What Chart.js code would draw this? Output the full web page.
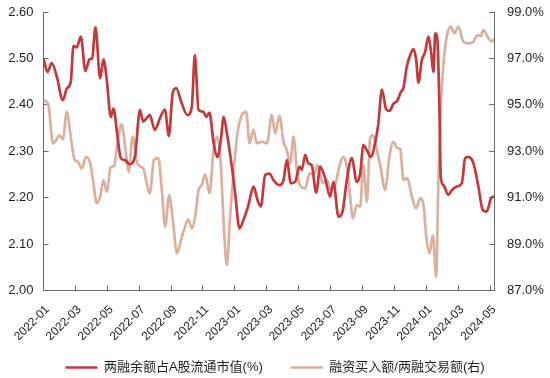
<!DOCTYPE html>
<html>
<head>
<meta charset="utf-8">
<script src="https://cdn.jsdelivr.net/npm/chart.js@4/dist/chart.umd.min.js"></script>
<style>
  body { margin: 0; background: #fff; }
</style>
</head>
<body>
<canvas id="grafico" width="550" height="378"></canvas>
<script>
// x = months since 2022-01 (0 = 2022-01-01)
const seriesNames = ['两融余额占A股流通市值(%)', '融资买入额/两融交易额(右)'];
const tickLabels = ['2022-01', '2022-03', '2022-05', '2022-07', '2022-09', '2022-11',
  '2023-01', '2023-03', '2023-05', '2023-07', '2023-09', '2023-11',
  '2024-01', '2024-03', '2024-05'];

const marginMonths = [0, 0.25, 0.52, 0.84, 1.21, 1.46, 1.71, 1.88, 2.09, 2.34, 2.63, 2.88, 3.05, 3.26,
  3.55, 3.76, 3.97, 4.22, 4.39, 4.64, 4.85, 5.12, 5.39, 5.73, 6.05, 6.25, 6.67, 6.98, 7.3, 7.61,
  7.86, 8.1, 8.32, 8.67, 9.03, 9.3, 9.49, 9.72, 10.03, 10.2, 10.41, 10.66, 10.91, 11.12, 11.3,
  11.5, 11.81, 12.02, 12.29, 12.54, 12.85, 13.17, 13.42, 13.63, 13.9, 14.17, 14.42, 14.8, 15.05,
  15.26, 15.51, 15.78, 16.05, 16.2, 16.41, 16.61, 16.82, 17.1, 17.35, 17.66, 17.97, 18.18, 18.5,
  18.77, 19.02, 19.33, 19.65, 19.86, 20.06, 20.28, 20.53, 20.79, 21.0, 21.22, 21.49, 21.69, 21.94,
  22.19, 22.41, 22.57, 22.78, 22.99, 23.2, 23.37, 23.51, 23.73, 23.93, 24.14, 24.29, 24.46, 24.56,
  24.7, 24.83, 24.91, 25.08, 25.39, 25.6, 25.92, 26.23, 26.44, 26.65, 26.96, 27.27, 27.55, 27.8,
  28.05, 28.25];
const marginValues = [2.50, 2.471, 2.49, 2.46, 2.41, 2.435, 2.45, 2.527, 2.524, 2.547, 2.473, 2.498, 2.50, 2.567,
  2.457, 2.498, 2.453, 2.374, 2.392, 2.331, 2.285, 2.281, 2.272, 2.288, 2.389, 2.364, 2.378, 2.346, 2.371, 2.39,
  2.333, 2.425, 2.436, 2.403, 2.378, 2.396, 2.507, 2.389, 2.385, 2.374, 2.383, 2.32, 2.288, 2.324, 2.374,
  2.339, 2.267, 2.209, 2.134, 2.152, 2.184, 2.224, 2.195, 2.181, 2.249, 2.252, 2.238, 2.227, 2.238,
  2.281, 2.231, 2.234, 2.267, 2.26, 2.292, 2.274, 2.27, 2.211, 2.267, 2.242, 2.202, 2.234, 2.159,
  2.173, 2.238, 2.285, 2.234, 2.252, 2.313, 2.302, 2.288, 2.317, 2.36, 2.433, 2.39, 2.387, 2.402,
  2.409, 2.428, 2.436, 2.482, 2.507, 2.52, 2.497, 2.448, 2.497, 2.514, 2.547, 2.518, 2.471, 2.554,
  2.54, 2.389, 2.245, 2.227, 2.206, 2.216, 2.224, 2.231, 2.285, 2.288, 2.274, 2.224, 2.173, 2.17,
  2.198, 2.203];

const buyMonths = [0, 0.31, 0.59, 0.8, 1.0, 1.21, 1.46, 1.71, 1.94, 2.15, 2.4, 2.67, 2.93, 3.13, 3.34,
  3.55, 3.76, 3.97, 4.22, 4.43, 4.6, 4.9, 5.17, 5.34, 5.59, 5.88, 6.25, 6.67, 6.92, 7.2, 7.42, 7.63,
  7.88, 8.11, 8.37, 8.62, 8.88, 9.09, 9.3, 9.57, 9.72, 9.93, 10.14, 10.41, 10.66, 10.87, 11.1, 11.33,
  11.5, 11.7, 11.91, 12.16, 12.44, 12.71, 12.92, 13.17, 13.38, 13.69, 14.01, 14.32, 14.53, 14.8,
  15.05, 15.26, 15.47, 15.68, 15.89, 16.14, 16.41, 16.68, 16.97, 17.18, 17.52, 17.77, 18.02, 18.29,
  18.6, 18.81, 19.02, 19.23, 19.4, 19.65, 19.86, 20.06, 20.28, 20.48, 20.65, 20.9, 21.15, 21.42,
  21.69, 21.94, 22.19, 22.36, 22.57, 22.82, 23.1, 23.37, 23.62, 23.83, 24.0, 24.21, 24.42, 24.62,
  24.77, 24.92, 25.12, 25.33, 25.54, 25.77, 26.02, 26.33, 26.65, 26.96, 27.21, 27.42, 27.58, 27.9,
  28.11, 28.25];
const buyValues = [95.21, 94.99, 93.34, 93.48, 93.7, 93.51, 94.7, 93.63, 92.65, 92.55, 92.26, 92.76, 92.48, 91.62, 90.76,
  91.04, 91.76, 91.26, 92.33, 92.36, 93.2, 94.17, 92.91, 92.12, 93.63, 92.48, 92.26, 91.19, 92.62, 92.7, 91.33, 89.75,
  91.11, 90.04, 88.6, 89.18, 89.75, 90.07, 89.68, 90.47, 91.33, 91.55, 92.02, 91.19, 93.05, 93.63, 92.6, 89.5,
  88.1, 90.18, 92.05, 93.77, 94.56, 94.7, 93.34, 93.92, 93.34, 93.41, 93.34, 94.56, 93.77, 94.52,
  93.41, 93.05, 92.48, 93.63, 92.19, 91.47, 91.4, 92.05, 91.98, 92.41, 91.62, 91.76, 91.33, 91.55,
  92.48, 92.76, 92.33, 91.04, 90.11, 90.68, 90.61, 92.41, 90.82, 93.56, 93.7, 93.05, 92.26, 91.33,
  92.76, 93.41, 93.13, 93.13, 91.76, 91.83, 91.04, 90.54, 90.97, 90.68, 89.32, 88.6, 89.39, 87.59,
  91.9, 95.07, 97.07, 98.08, 98.37, 98.08, 98.37, 97.72, 97.65, 97.72, 98.01, 97.97, 98.22, 97.87,
  97.72, 97.85];

const fonte = "'Liberation Sans', Arial, 'Noto Sans CJK SC', sans-serif";
const corTexto = '#1f1f1f';
const corEixo = '#6b6b6b';

// ticks point inward (negative tickLength), so label padding compensates
const eixoBase = {
  border: { color: corEixo, width: 1 },
  grid: { drawOnChartArea: false, color: corEixo, tickLength: -5, tickWidth: 1 },
  ticks: { color: corTexto, font: { family: fonte, size: 13 } }
};

// fixed axis sizes; drop the extra label padding Chart.js adds to the chart area
const tamanhoFixo = (w, h) => s => {
  if (w) s.width = w;
  if (h) s.height = h;
  s.paddingTop = 0; s.paddingBottom = 0;
  s.paddingLeft = 0; s.paddingRight = 0;
  s._computeLabelArea = () => undefined; // rotated labels run past the short axis box
};

const config = {
  type: 'line',
  data: {
    datasets: [{
      label: seriesNames[0],
      data: marginMonths.map((m, i) => ({ x: m, y: marginValues[i] })),
      borderColor: '#c23a3c',
      backgroundColor: '#c23a3c',
      borderWidth: 2.7,
      yAxisID: 'y'
    }, {
      label: seriesNames[1],
      data: buyMonths.map((m, i) => ({ x: m, y: buyValues[i] })),
      borderColor: '#dbb19e',
      backgroundColor: '#dbb19e',
      borderWidth: 2.7,
      yAxisID: 'y1'
    }]
  },
  options: {
    responsive: false,
    animation: false,
    layout: { padding: { top: 12, bottom: -6, left: 0, right: 0 } },
    elements: {
      point: { radius: 0, pointStyle: 'line' },
      line: { cubicInterpolationMode: 'monotone' }
    },
    plugins: {
      tooltip: { enabled: false },
      legend: {
        position: 'bottom',
        labels: {
          usePointStyle: true,
          pointStyleWidth: 32,
          padding: 28,
          color: corTexto,
          font: { family: fonte, size: 13 }
        }
      }
    },
    scales: {
      x: {
        ...eixoBase,
        type: 'linear',
        min: 0,
        max: 28.25,
        afterFit: tamanhoFixo(0, 42.5),
        ticks: {
          ...eixoBase.ticks,
          font: { family: fonte, size: 12 },
          stepSize: 2,
          includeBounds: false,
          autoSkip: false,
          minRotation: 45,
          maxRotation: 45,
          padding: 17,
          labelOffset: 4,
          callback: v => tickLabels[v / 2]
        }
      },
      y: {
        ...eixoBase,
        position: 'left',
        min: 2.0,
        max: 2.6,
        afterFit: tamanhoFixo(43.5, 0),
        ticks: { ...eixoBase.ticks, stepSize: 0.1, padding: 15, callback: v => v.toFixed(2) }
      },
      y1: {
        ...eixoBase,
        position: 'right',
        min: 87,
        max: 99,
        afterFit: tamanhoFixo(56, 0),
        ticks: { ...eixoBase.ticks, stepSize: 2, padding: 18, callback: v => v.toFixed(1) + '%' }
      }
    }
  }
};

const ctx = document.getElementById('grafico').getContext('2d');
const grafico = new Chart(ctx, config);
</script>
</body>
</html>
